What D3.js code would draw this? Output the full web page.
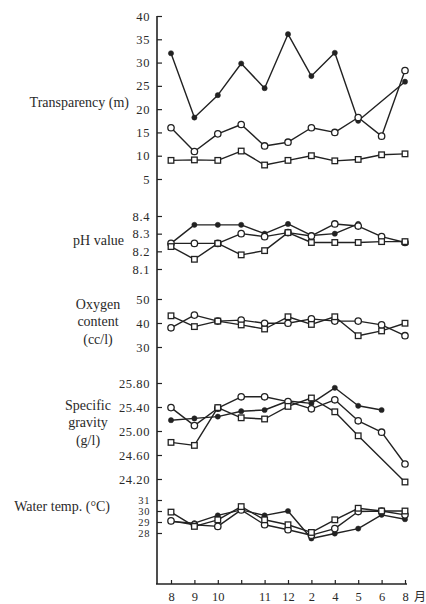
<!DOCTYPE html>
<html>
<head>
<meta charset="utf-8">
<script src="https://cdn.jsdelivr.net/npm/d3@7"></script>
<style>
  body { margin: 0; background: #fff; }
  svg text { font-family: "Liberation Serif", "DejaVu Serif", serif; fill: #2a2a2a; }
</style>
</head>
<body>
<svg id="chart" width="426" height="604"></svg>
<script>
// month labels along the bottom (4th slot has a tick but no label)
const months = ["8", "9", "10", "", "11", "12", "2", "4", "5", "6", "8"];

// transparency (m)
const transTicks = [5, 10, 15, 20, 25, 30, 35, 40];
const transFilled = [32, 18.2, 23, 29.8, 24.5, 36.1, 27.1, 32.1, 17.5, null, 25.9];
const transCircle = [16, 10.9, 14.7, 16.7, 12.1, 12.9, 16, 15, 18.2, 14.2, 28.3];
const transSquare = [9, 9.1, 9, 11, 8, 9, 10, 8.9, 9.2, 10.2, 10.4];

// pH
const phTicks = [8.1, 8.2, 8.3, 8.4];
const phFilled = [8.245, 8.35, 8.35, 8.35, 8.3, 8.355, 8.29, 8.3, 8.355, null, null];
const phCircle = [8.245, 8.245, 8.245, 8.3, 8.283, 8.306, 8.287, 8.355, 8.343, 8.283, 8.25];
const phSquare = [8.227, 8.155, 8.245, 8.18, 8.204, 8.306, 8.25, 8.25, 8.25, 8.255, 8.255];

// oxygen content (cc/l)
const oxyTicks = [30, 40, 50];
const oxyCircle = [38, 43.3, 40.8, 41.2, 39.9, 39.9, 41.7, 40.8, 40.8, 39.2, 34.7];
const oxySquare = [43, 38.5, 40.8, 39.2, 37.5, 42.6, 39.4, 42.6, 34.7, 36.7, 39.9];

// specific gravity (g/l)
const sgTicks = [24.2, 24.6, 25.0, 25.4, 25.8];
const sgFilled = [25.18, 25.21, 25.24, 25.33, 25.35, 25.5, 25.46, 25.72, 25.42, 25.35, null];
const sgCircle = [25.39, 25.09, 25.38, 25.57, 25.57, 25.49, 25.37, 25.52, 25.17, 24.98, 24.45];
const sgSquare = [24.81, 24.76, 25.39, 25.22, 25.2, 25.41, 25.55, 25.32, 24.92, null, 24.15];

// water temp (°C)
const wtTicks = [28, 29, 30, 31];
const wtFilled = [29.05, 28.9, 29.6, 30.1, 29.6, 30.0, 27.5, 27.95, 28.4, 29.65, 29.25];
const wtCircle = [29.1, 28.75, 28.6, 30.1, 28.75, 28.3, 27.8, 28.4, 29.95, 30.0, 29.65];
const wtSquare = [29.9, 28.6, 29.2, 30.4, 29.2, 28.75, 28.05, 29.2, 30.25, 30.0, 30.0];

var svg = d3.select("#chart"),
  axisX = 157,
  axisTop = 16,
  axisBottom = 584,
  ink = "#222";

var x = d3
  .scalePoint()
  .domain(d3.range(months.length))
  .range([171, 405]);

const panels = [
  {
    label: ["Transparency (m)"], lx: 129, ly: 102, anchor: "end",
    domain: [5, 40], range: [179, 16], ticks: transTicks, fmt: d3.format("d"), tf: 12.5,
    series: [[transFilled, "filled"], [transCircle, "circle"], [transSquare, "square"]]
  },
  {
    label: ["pH value"], lx: 124, ly: 240, anchor: "end",
    domain: [8.1, 8.4], range: [269, 216], ticks: phTicks, fmt: d3.format(".1f"), tf: 12.5,
    series: [[phFilled, "filled"], [phCircle, "circle"], [phSquare, "square"]]
  },
  {
    label: ["Oxygen", "content", "(cc/l)"], lx: 98, ly: 304, anchor: "middle",
    domain: [30, 50], range: [347, 299], ticks: oxyTicks, fmt: d3.format("d"), tf: 12.5,
    series: [[oxyCircle, "circle"], [oxySquare, "square"]]
  },
  {
    label: ["Specific", "gravity", "(g/l)"], lx: 88, ly: 405, anchor: "middle",
    domain: [24.2, 25.8], range: [479, 383], ticks: sgTicks, fmt: d3.format(".2f"), tf: 12.5,
    series: [[sgFilled, "filled"], [sgCircle, "circle"], [sgSquare, "square"]]
  },
  {
    label: ["Water temp. (\u00b0C)"], lx: 110, ly: 506, anchor: "end",
    domain: [28, 31], range: [533, 500], ticks: wtTicks, fmt: d3.format("d"), tf: 10.5,
    series: [[wtFilled, "filled"], [wtCircle, "circle"], [wtSquare, "square"]]
  }
];

var line = d3.line()
  .x(d => x(d.i))
  .y(d => d.y);

panels.forEach(p => {
  var y = d3.scaleLinear().domain(p.domain).range(p.range);

  // ticks point inward, labels to the left of the spine
  var ax = svg
    .append("g")
    .attr("transform", `translate(${axisX},0)`)
    .call(d3.axisLeft(y).tickValues(p.ticks).tickFormat(p.fmt).tickSize(-5).tickPadding(7));
  ax.select(".domain").remove();
  ax.selectAll("line").attr("stroke", ink).attr("stroke-width", 1.2);
  ax.selectAll("text")
    .attr("fill", "#2a2a2a")
    .style("font-size", p.tf + "px")
    .style("letter-spacing", "0.6px")
    .style("font-family", "'Liberation Serif', serif");

  var t = svg
    .append("text")
    .attr("x", p.lx)
    .attr("y", p.ly)
    .attr("text-anchor", p.anchor)
    .style("font-size", "14px");
  p.label.forEach((s, k) => {
    t.append("tspan")
      .attr("x", p.lx)
      .attr("dy", k == 0 ? "0.35em" : "1.25em")
      .text(s);
  });

  var g = svg.append("g");

  // lines first (gaps are bridged, as in the original drawing)
  p.series.forEach(([vals]) => {
    var pts = vals
      .map((v, i) => ({ i: i, v: v }))
      .filter(d => d.v != null)
      .map(d => ({ i: d.i, y: y(d.v) }));
    g.append("path")
      .attr("d", line(pts))
      .attr("fill", "none")
      .attr("stroke", ink)
      .attr("stroke-width", 1.4)
      .attr("stroke-linejoin", "round");
  });

  p.series.forEach(([vals, kind]) => {
    var pts = vals
      .map((v, i) => ({ i: i, v: v }))
      .filter(d => d.v != null);
    if (kind == "square") {
      g.selectAll(null)
        .data(pts)
        .enter()
        .append("rect")
        .attr("x", d => x(d.i) - 2.8)
        .attr("y", d => y(d.v) - 2.8)
        .attr("width", 5.6)
        .attr("height", 5.6)
        .attr("fill", "#fff")
        .attr("stroke", ink)
        .attr("stroke-width", 1.3);
    } else {
      g.selectAll(null)
        .data(pts)
        .enter()
        .append("circle")
        .attr("cx", d => x(d.i))
        .attr("cy", d => y(d.v))
        .attr("r", kind == "filled" ? 2.6 : 3.2)
        .attr("fill", kind == "filled" ? ink : "#fff")
        .attr("stroke", ink)
        .attr("stroke-width", kind == "filled" ? 0.5 : 1.3);
    }
  });
});

// spine
svg.append("line")
  .attr("x1", axisX).attr("x2", axisX)
  .attr("y1", axisTop).attr("y2", axisBottom)
  .attr("stroke", ink)
  .attr("stroke-width", 1.6);

// month axis
var xa = svg
  .append("g")
  .attr("transform", `translate(0,${axisBottom})`)
  .call(d3.axisBottom(x).tickFormat(i => months[i]).tickSize(-4).tickPadding(8));
xa.select(".domain").remove();
xa.selectAll("line").attr("stroke", ink).attr("stroke-width", 1.2);
xa.selectAll("text")
  .attr("fill", "#2a2a2a")
  .style("font-size", "12.5px")
  .style("font-family", "'Liberation Serif', serif");

svg.append("line")
  .attr("x1", axisX - 1).attr("x2", 407)
  .attr("y1", axisBottom).attr("y2", axisBottom)
  .attr("stroke", ink)
  .attr("stroke-width", 1.6);

svg.append("text")
  .attr("x", 414)
  .attr("y", axisBottom + 8)
  .attr("dy", "0.71em")
  .style("font-size", "12px")
  .style("font-family", "'Noto Sans CJK SC', sans-serif")
  .text("月");
</script>
</body>
</html>
